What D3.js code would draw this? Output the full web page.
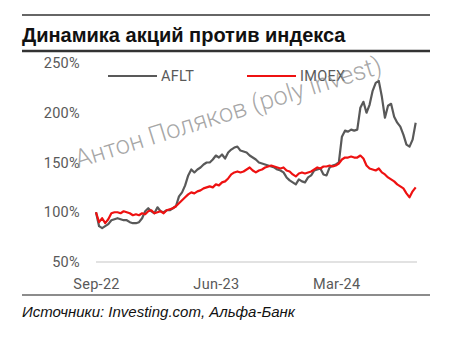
<!DOCTYPE html>
<html>
<head>
<meta charset="utf-8">
<script src="https://cdn.jsdelivr.net/npm/d3@7/dist/d3.min.js"></script>
<style>
  html, body { margin: 0; padding: 0; background: #fff; }
  svg { display: block; }
</style>
</head>
<body>
<svg id="chart" width="465" height="340"></svg>
<script>
// Weekly closes, rebased to 100% on the first week (Sep 2022)
const startDate = "2022-09-01";
const stepDays = 7;

const afltValues = [
  100, 86, 84, 86, 88, 92, 93, 94, 93, 92,
  92, 90, 89, 89, 90, 94, 101, 104, 101, 99,
  105, 101, 100, 102, 102, 104, 106, 116, 120, 127,
  137, 143, 140, 143, 145, 148, 150, 150, 153, 157,
  155, 158, 154, 160, 163, 165, 166, 162, 161, 160,
  157, 155, 153, 150, 149, 148, 147, 146, 145, 143,
  142, 140, 135, 132, 130, 128, 133, 131, 130, 135,
  137, 142, 143, 144, 138, 137, 145, 147, 148, 150,
  176, 182, 181, 183, 182, 183, 205, 211, 200, 208,
  222, 230, 232, 216, 195, 207, 209, 196, 190, 186,
  178, 168, 166, 173, 190
];

const imoexValues = [
  100, 90, 94, 89, 93, 99, 100, 100, 99, 101,
  100, 99, 97, 98, 97, 99, 98, 101, 102, 99,
  100, 101, 99, 102, 103, 104, 106, 109, 112, 115,
  118, 120, 119, 121, 122, 124, 125, 126, 125, 128,
  127, 130, 131, 134, 138, 140, 141, 140, 141, 143,
  145, 142, 140, 142, 143, 145, 146, 147, 146, 145,
  144, 145, 142, 141, 138, 136, 139, 140, 139, 140,
  141, 143, 145, 144, 146, 146, 147, 146, 147, 149,
  153, 155, 155, 156, 155, 155, 157, 154, 147, 144,
  143, 142, 144, 140, 138, 135, 133, 131, 128, 126,
  124, 119, 115, 121, 125
];

const seriesNames = ["AFLT", "IMOEX"];
const seriesColors = ["#595959", "#ee1111"];

const yTicks = [50, 100, 150, 200, 250];
const xTickDates = ["2022-09-01", "2023-06-01", "2024-03-01"];
const xTickLabels = ["Sep-22", "Jun-23", "Mar-24"];
const xDomain = ["2022-09-01", "2024-09-01"];

const titleText = "Динамика акций против индекса";
const sourceText = "Источники: Investing.com, Альфа-Банк";
const watermarkText = "Антон Поляков (poly invest)";

const svg = d3.select("#chart");
const parse = d3.utcParse("%Y-%m-%d");
const start = parse(startDate);

const dates = afltValues.map((_, i) => d3.utcDay.offset(start, i * stepDays));
const series = [afltValues, imoexValues].map((vals, k) => ({
  name: seriesNames[k],
  color: seriesColors[k],
  points: vals.map((v, i) => ({ date: dates[i], value: v }))
}));

const x = d3.scaleUtc()
  .domain(xDomain.map(parse))
  .range([96, 417]);

const y = d3.scaleLinear()
  .domain([50, 250])
  .range([262, 63]);

const axisFont = "Roboto, 'Liberation Sans', Arial, sans-serif";
const axisColor = "#595959";
const axisSize = 14.5;

// Frame rules and title
svg.append("line").attr("x1", 22).attr("x2", 430).attr("y1", 15).attr("y2", 15)
  .attr("stroke", "#333").attr("stroke-width", 1.3);
svg.append("text")
  .attr("x", 22).attr("y", 42)
  .attr("font-family", "'Liberation Sans', Arial, sans-serif")
  .attr("font-weight", "bold")
  .attr("font-size", 20)
  .attr("fill", "#111")
  .text(titleText);
svg.append("line").attr("x1", 22).attr("x2", 430).attr("y1", 51).attr("y2", 51)
  .attr("stroke", "#333").attr("stroke-width", 2.5);

// Y axis labels
const yAxis = d3.axisLeft(y)
  .tickValues(yTicks)
  .tickFormat(d => d + "%")
  .tickSize(0)
  .tickPadding(0);
const gy = svg.append("g").attr("transform", "translate(80,0)").call(yAxis);
gy.select(".domain").remove();
gy.selectAll("text")
  .attr("font-family", axisFont)
  .attr("font-size", axisSize)
  .attr("letter-spacing", 0.3)
  .attr("fill", axisColor);

// Baseline gridline at the lowest tick
svg.append("line")
  .attr("x1", x.range()[0]).attr("x2", x.range()[1])
  .attr("y1", y(50)).attr("y2", y(50))
  .attr("stroke", "#d9d9d9").attr("stroke-width", 1.3);

// X axis labels
const xAxis = d3.axisBottom(x)
  .tickValues(xTickDates.map(parse))
  .tickFormat((d, i) => xTickLabels[i])
  .tickSize(0)
  .tickPadding(0);
const gx = svg.append("g").attr("transform", "translate(0,278.5)").call(xAxis);
gx.select(".domain").remove();
gx.selectAll("text")
  .attr("font-family", axisFont)
  .attr("font-size", axisSize)
  .attr("letter-spacing", 0.3)
  .attr("fill", axisColor);

// Series lines
const line = d3.line()
  .x(d => x(d.date))
  .y(d => y(d.value));

svg.append("g").selectAll("path")
  .data(series)
  .join("path")
  .attr("d", d => line(d.points))
  .attr("fill", "none")
  .attr("stroke", d => d.color)
  .attr("stroke-width", 2.2)
  .attr("stroke-linejoin", "round");

// Legend
const legendPos = [108, 247];
const legend = svg.append("g").selectAll("g")
  .data(series)
  .join("g")
  .attr("transform", (d, i) => `translate(${legendPos[i]},76)`);
legend.append("line")
  .attr("x1", 0).attr("x2", 49)
  .attr("stroke", d => d.color).attr("stroke-width", 2.2);
legend.append("text")
  .attr("x", 53).attr("dy", "0.35em")
  .attr("font-family", axisFont)
  .attr("font-size", axisSize)
  .attr("letter-spacing", 0.3)
  .attr("fill", axisColor)
  .text(d => d.name);

// Bottom rule and source note
svg.append("line").attr("x1", 22).attr("x2", 430).attr("y1", 295).attr("y2", 295)
  .attr("stroke", "#666").attr("stroke-width", 1.3);
svg.append("text")
  .attr("x", 22).attr("y", 317)
  .attr("font-family", "'Liberation Sans', Arial, sans-serif")
  .attr("font-style", "italic")
  .attr("font-size", 15)
  .attr("fill", "#111")
  .text(sourceText);

// Author watermark
svg.append("text")
  .attr("transform", "translate(78,168) rotate(-17.3)")
  .attr("font-family", "Roboto, 'Open Sans', sans-serif")
  .attr("font-weight", 300)
  .attr("font-size", 25.5)
  .attr("fill", "#8a8a8a")
  .attr("fill-opacity", 0.75)
  .text(watermarkText);
</script>
</body>
</html>
